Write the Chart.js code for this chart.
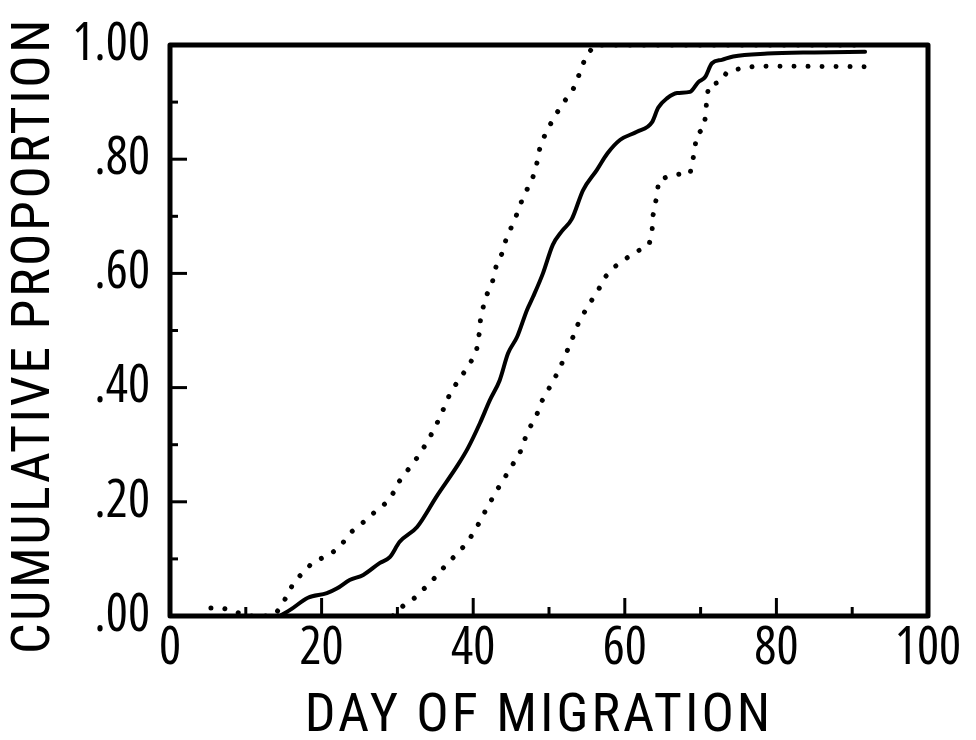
<!DOCTYPE html>
<html>
<head>
<meta charset="utf-8">
<script src="https://cdn.jsdelivr.net/npm/chart.js@4.4.1/dist/chart.umd.min.js"></script>
<style>
  html, body { margin: 0; padding: 0; background: #ffffff; }
  #wrap { width: 976px; height: 740px; }
</style>
</head>
<body>
<div id="wrap"><canvas id="c" width="976" height="740"></canvas></div>
<script>
// ---- data ----
const xTickValues = [0, 20, 40, 60, 80, 100];
const yTickLabels = ['.00', '.20', '.40', '.60', '.80', '1.00'];

// cumulative proportion (solid line)
const solidDays = [14.5, 16, 18.2, 20.7, 22, 23.7, 25.5, 27.7, 29, 30.3, 32.6, 35.2, 38, 39.3, 40.9, 42.2, 43.5, 44.6, 45.8, 47.1, 47.9, 49.2, 50.5, 51.7, 53, 54.5, 56.3, 57.7, 59.4, 61.6, 63.6, 64.4, 65.6, 66.9, 68.6, 69.7, 70.6, 71.5, 72.8, 74.3, 78.8, 85, 91.7];
const solidProp = [0, 0.012, 0.032, 0.04, 0.048, 0.063, 0.072, 0.093, 0.103, 0.13, 0.156, 0.21, 0.265, 0.294, 0.338, 0.378, 0.413, 0.46, 0.489, 0.536, 0.559, 0.6, 0.65, 0.674, 0.695, 0.746, 0.781, 0.81, 0.834, 0.848, 0.865, 0.89, 0.907, 0.916, 0.918, 0.935, 0.944, 0.968, 0.974, 0.98, 0.985, 0.987, 0.988];

// upper (early) dotted bound
const upperDays = [5.4, 6.8, 8.2, 10, 13.5, 14.1, 14.8, 15.6, 16.3, 17.6, 19, 20.8, 22.4, 23.9, 25.4, 27, 28.5, 29.7, 30.2, 31.4, 32.6, 33.9, 35, 35.9, 36.8, 37.9, 39.3, 40.4, 40.8, 41, 41.7, 42.5, 43, 43.8, 44.3, 45, 45.8, 46.6, 47.8, 48.4, 48.8, 49.5, 50.7, 51.7, 53.2, 54, 54.7, 55.5, 56, 91.6];
const upperProp = [0.014, 0.014, 0.01, 0, 0, 0.007, 0.02, 0.04, 0.058, 0.077, 0.096, 0.105, 0.121, 0.147, 0.163, 0.182, 0.198, 0.22, 0.235, 0.256, 0.277, 0.304, 0.331, 0.357, 0.385, 0.41, 0.436, 0.462, 0.495, 0.525, 0.56, 0.583, 0.611, 0.635, 0.658, 0.68, 0.705, 0.734, 0.765, 0.793, 0.82, 0.844, 0.874, 0.895, 0.923, 0.949, 0.974, 0.991, 1.0, 1.0];

// lower (late) dotted bound
const lowerDays = [29.4, 31, 32.2, 33.6, 35, 36.4, 37.7, 39.2, 40.5, 41.8, 43.3, 44.7, 46.2, 47.2, 48.3, 49, 50.1, 51.3, 52.1, 53, 54, 55.3, 56.5, 57.5, 58.8, 61, 63.2, 63.6, 63.7, 64.2, 64.5, 66.1, 67.3, 68.6, 69, 69.3, 69.5, 70.4, 70.7, 70.8, 71.1, 72.6, 73.5, 75, 76.9, 78.8, 91.6];
const lowerProp = [0, 0.021, 0.031, 0.049, 0.068, 0.089, 0.107, 0.128, 0.156, 0.189, 0.224, 0.254, 0.287, 0.324, 0.349, 0.375, 0.401, 0.43, 0.455, 0.483, 0.517, 0.546, 0.571, 0.595, 0.613, 0.634, 0.65, 0.674, 0.70, 0.734, 0.764, 0.771, 0.774, 0.774, 0.80, 0.825, 0.844, 0.853, 0.881, 0.905, 0.93, 0.935, 0.953, 0.958, 0.962, 0.963, 0.962];

const xTitle = 'DAY OF MIGRATION';
const yTitle = 'CUMULATIVE PROPORTION';

function pairs(xs, ys) { return xs.map((x, i) => ({ x: x, y: ys[i] })); }

const TICK_FONT = "'Open Sans', 'Roboto Condensed', sans-serif";
const TITLE_FONT = "'Roboto Condensed', 'Open Sans', sans-serif";

// letter-spaced axis titles (wraps the scale's own title drawing)
function patchTitle(scale, spacing, dx, dy) {
  if (!scale || scale._spacedTitle) return;
  const orig = scale.drawTitle.bind(scale);
  scale.drawTitle = function () {
    const c = this.ctx;
    c.save();
    c.letterSpacing = spacing;
    c.translate(dx, dy);
    orig();
    c.restore();
  };
  scale._spacedTitle = true;
}

const frameAndTicks = {
  id: 'frameAndTicks',
  beforeDraw(chart) {
    patchTitle(chart.scales.x, '3px', -10, 0);
    patchTitle(chart.scales.y, '2.5px', 0, 5);
  },
  afterDatasetsDraw(chart) {
    const ctx = chart.ctx;
    const a = chart.chartArea;
    const xs = chart.scales.x, ys = chart.scales.y;
    ctx.save();
    ctx.strokeStyle = '#000';
    ctx.lineCap = 'butt';
    ctx.lineWidth = 3;
    for (let d = 10; d < 100; d += 10) {
      const px = xs.getPixelForValue(d);
      const len = (d % 20 === 0) ? 18 : 9;
      ctx.beginPath(); ctx.moveTo(px, a.bottom); ctx.lineTo(px, a.bottom - len); ctx.stroke();
    }
    for (let k = 1; k < 10; k++) {
      const py = ys.getPixelForValue(k / 10);
      const len = (k % 2 === 0) ? 17 : 8;
      ctx.beginPath(); ctx.moveTo(a.left, py); ctx.lineTo(a.left + len, py); ctx.stroke();
    }
    ctx.lineWidth = 5;
    ctx.lineJoin = 'round';
    ctx.strokeRect(a.left, a.top, a.right - a.left, a.bottom - a.top);
    ctx.restore();
  }
};

new Chart(document.getElementById('c'), {
  type: 'line',
  data: {
    datasets: [
      {
        label: 'Cumulative proportion',
        data: pairs(solidDays, solidProp),
        borderColor: '#000', borderWidth: 4, pointRadius: 0,
        cubicInterpolationMode: 'monotone', fill: false,
        borderCapStyle: 'round', borderJoinStyle: 'round'
      },
      {
        label: 'Upper bound',
        data: pairs(upperDays, upperProp),
        borderColor: '#000', borderWidth: 5, pointRadius: 0,
        borderDash: [0.01, 14], borderCapStyle: 'round', tension: 0, fill: false
      },
      {
        label: 'Lower bound',
        data: pairs(lowerDays, lowerProp),
        borderColor: '#000', borderWidth: 5, pointRadius: 0,
        borderDash: [0.01, 14], borderCapStyle: 'round', tension: 0, fill: false
      }
    ]
  },
  options: {
    responsive: false,
    animation: false,
    devicePixelRatio: 1,
    layout: { padding: { top: 45, right: 48, left: 0, bottom: 0 } },
    plugins: { legend: { display: false }, tooltip: { enabled: false } },
    scales: {
      x: {
        type: 'linear', position: 'bottom', min: 0, max: 100,
        afterFit(s) { s.height = 124; s.paddingLeft = 0; s.paddingRight = 0; },
        grid: { display: false, drawTicks: false },
        border: { display: false },
        ticks: {
          stepSize: 20, autoSkip: false, maxRotation: 0, padding: 7,
          color: '#000', font: { family: TICK_FONT, size: 52, weight: 'condensed', lineHeight: 1 },
          callback: (v) => xTickValues.includes(v) ? String(v) : ''
        },
        title: {
          display: true, text: xTitle, color: '#000',
          font: { family: TITLE_FONT, size: 54, lineHeight: 0.6 },
          padding: { top: 0, bottom: 6 }
        }
      },
      y: {
        type: 'linear', min: 0, max: 1,
        afterFit(s) { s.width = 170; s.paddingTop = 0; s.paddingBottom = 0; },
        grid: { display: false, drawTicks: false },
        border: { display: false },
        ticks: {
          stepSize: 0.2, autoSkip: false, padding: 20,
          color: '#000', font: { family: TICK_FONT, size: 52, weight: 'condensed', lineHeight: 1 },
          callback: (v) => yTickLabels[Math.round(v * 5)]
        },
        title: {
          display: true, text: yTitle, color: '#000',
          font: { family: TITLE_FONT, size: 54, lineHeight: 0.6 },
          padding: { top: 19, bottom: 0 }
        }
      }
    }
  },
  plugins: [frameAndTicks]
});
</script>
</body>
</html>
